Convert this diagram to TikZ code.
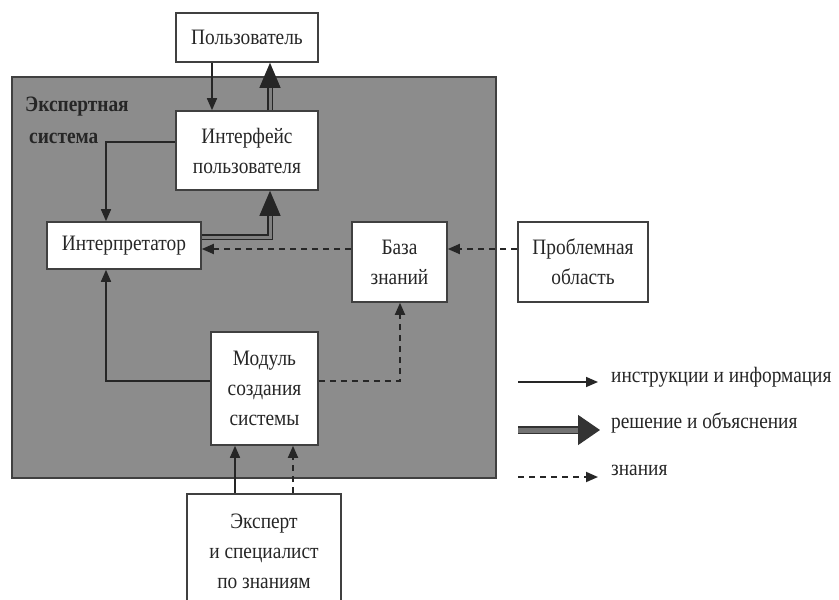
\documentclass[tikz,border=0pt]{standalone}
\usepackage{fontspec}
\setmainfont{Liberation Serif}[FakeStretch=0.88]
\usetikzlibrary{arrows.meta,calc}
\begin{document}
\begin{tikzpicture}[x=1pt,y=-1pt,
  txt/.style={text=black!85, font=\fontsize{22}{30}\selectfont},
  box/.style={txt, draw=black!75, line width=1.6pt, fill=white, inner sep=0pt, align=center},
  thinarr/.style={draw=black!85, line width=1.6pt, -{Triangle[length=12pt,width=10pt]}},
  thickarr/.style={draw=black!85, line width=1.2pt, double=black!50, double distance=3pt,
     -{Triangle[length=25pt,width=21pt]}},
  dasharr/.style={draw=black!85, line width=1.8pt, dash pattern=on 6pt off 5pt,
     -{Triangle[length=12pt,width=10pt]}},
]
\useasboundingbox (0,0) rectangle (839,600);
\fill[white] (0,0) rectangle (839,600);

% expert system area
\node[draw=black!75, line width=1.6pt, fill=black!45, inner sep=0pt,
      minimum width=484pt, minimum height=401pt, anchor=north west] (es) at (11,76) {};
\node[txt, font=\fontsize{22}{32}\selectfont\bfseries, align=left, anchor=north west, inner sep=0pt]
  (eslabel) at (25,97) {Экспертная\\\hspace*{4pt}система};

% boxes
\node[box, minimum width=142pt, minimum height=49pt] (user) at (247,37.5) {Пользователь};
\node[box, minimum width=142pt, minimum height=79pt] (iface) at (247,150.5) {Интерфейс\\пользователя};
\node[box, minimum width=154pt, minimum height=47pt] (interp) at (124,245.5) {Интерпретатор};
\node[box, minimum width=95pt, minimum height=80pt] (kb) at (399.5,262) {База\\знаний};
\node[box, minimum width=130pt, minimum height=80pt] (prob) at (583,262) {Проблемная\\область};
\node[box, minimum width=107pt, minimum height=113pt] (mod) at (264.5,388.5) {Модуль\\создания\\системы};
\node[box, minimum width=154pt, minimum height=116pt, anchor=north] (exp) at (264,493) {Эксперт\\и специалист\\по знаниям};

% guide coordinates
\coordinate (xA) at (212,0);
\coordinate (xB) at (270,0);
\coordinate (xC) at (106,0);
\coordinate (xD) at (400,0);
\coordinate (xE) at (235,0);
\coordinate (xF) at (293,0);
\coordinate (yA) at (0,142);
\coordinate (yB) at (0,237);
\coordinate (yC) at (0,249);
\coordinate (yD) at (0,381);

% connectors
\draw[thinarr] (user.south -| xA) -- (iface.north -| xA);
\draw[thickarr] (iface.north -| xB) -- (user.south -| xB);
\draw[thinarr] (iface.west |- yA) -| (interp.north -| xC);
\draw[thickarr] (interp.east |- yB) -| (iface.south -| xB);
\draw[dasharr] (kb.west |- yC) -- (interp.east |- yC);
\draw[dasharr] (prob.west |- yC) -- (kb.east |- yC);
\draw[thinarr] (mod.west |- yD) -| (interp.south -| xC);
\draw[dasharr] (mod.east |- yD) -| (kb.south -| xD);
\draw[thinarr] (exp.north -| xE) -- (mod.south -| xE);
\draw[dasharr] (exp.north -| xF) -- (mod.south -| xF);

% legend
\coordinate (l1a) at (518,382); \coordinate (l1b) at (598,382);
\coordinate (l2a) at (518,430); \coordinate (l2b) at (600,430);
\coordinate (l3a) at (518,477); \coordinate (l3b) at (598,477);
\draw[thinarr] (l1a) -- (l1b);
\draw[draw=black!80, line width=1.5pt, double=black!55, double distance=5pt,
      -{Triangle[length=22pt,width=30pt]}] (l2a) -- (l2b);
\draw[dasharr] (l3a) -- (l3b);
\node[txt, anchor=west, inner sep=0pt] (t1) at (611,377) {инструкции и информация};
\node[txt, anchor=west, inner sep=0pt] (t2) at (611,423) {решение и объяснения};
\node[txt, anchor=west, inner sep=0pt] (t3) at (611,470) {знания};
\end{tikzpicture}
\end{document}
